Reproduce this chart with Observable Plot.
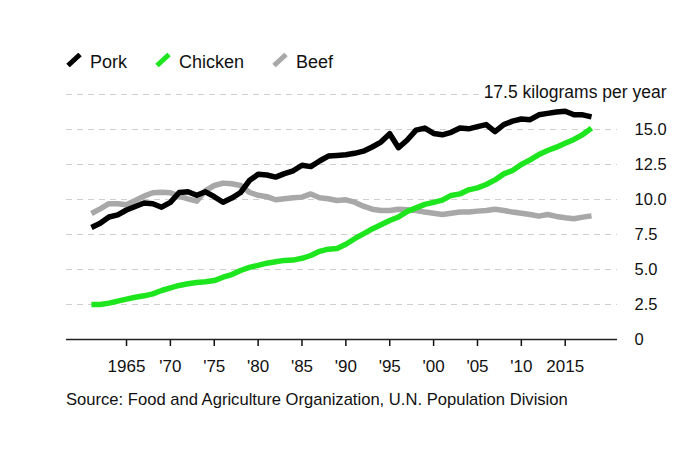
<!DOCTYPE html>
<html><head><meta charset="utf-8">
<script src="https://cdn.jsdelivr.net/npm/d3@7"></script>
<script src="https://cdn.jsdelivr.net/npm/@observablehq/plot@0.6"></script>
<style>
body{margin:0;background:#fff;font-family:"Liberation Sans",Arial,Helvetica,sans-serif;color:#111}
#wrap{position:relative;width:695px;height:450px;overflow:hidden}
#legend{position:absolute;left:66px;top:53.3px;display:flex;font-size:18px;line-height:18px;white-space:nowrap}
#legend .item{display:flex;align-items:flex-start;margin-right:28px}
#legend svg{margin-right:8px;display:block}
#chart{position:absolute;left:0;top:78px}
#caption{position:absolute;left:66px;top:391.5px;font-size:16.6px;line-height:16.6px;white-space:nowrap}
</style></head><body>
<div id="wrap">
<div id="legend"></div>
<div id="chart"></div>
<div id="caption"></div>
</div>
<script>
const years = [1961,1962,1963,1964,1965,1966,1967,1968,1969,1970,1971,1972,1973,1974,1975,1976,1977,1978,1979,1980,
1981,1982,1983,1984,1985,1986,1987,1988,1989,1990,1991,1992,1993,1994,1995,1996,1997,1998,1999,2000,
2001,2002,2003,2004,2005,2006,2007,2008,2009,2010,2011,2012,2013,2014,2015,2016,2017,2018];

const pork = [8.0,8.3,8.75,8.9,9.25,9.5,9.75,9.7,9.45,9.8,10.5,10.55,10.3,10.55,10.2,9.8,10.1,10.5,11.35,11.8,
11.75,11.6,11.85,12.05,12.45,12.35,12.75,13.1,13.15,13.2,13.3,13.45,13.75,14.1,14.7,13.7,14.25,14.95,15.1,14.72,
14.62,14.8,15.1,15.05,15.2,15.35,14.85,15.35,15.6,15.75,15.7,16.05,16.15,16.25,16.3,16.05,16.05,15.9];

const chicken = [2.5,2.5,2.6,2.74,2.88,3.02,3.12,3.26,3.5,3.69,3.86,3.98,4.07,4.12,4.21,4.45,4.64,4.93,5.15,5.3,
5.45,5.55,5.65,5.67,5.8,6.0,6.3,6.45,6.5,6.8,7.2,7.55,7.9,8.2,8.5,8.75,9.15,9.4,9.65,9.8,
9.95,10.29,10.4,10.69,10.83,11.07,11.4,11.83,12.07,12.5,12.83,13.21,13.5,13.74,14.02,14.29,14.64,15.1];

const beef = [9.0,9.33,9.7,9.7,9.62,9.93,10.24,10.48,10.52,10.48,10.24,10.05,9.88,10.64,11.0,11.17,11.12,11.0,10.52,10.3,
10.2,9.98,10.05,10.12,10.17,10.4,10.12,10.05,9.93,9.98,9.81,9.52,9.31,9.21,9.21,9.31,9.26,9.21,9.1,9.02,
8.93,9.02,9.1,9.1,9.17,9.21,9.31,9.21,9.1,9.02,8.93,8.81,8.93,8.79,8.69,8.62,8.74,8.83];

const seriesNames = ["Pork", "Chicken", "Beef"];
const seriesColors = ["#000000", "#1ee61e", "#a8a8a8"];
const xTicks = [1965,1970,1975,1980,1985,1990,1995,2000,2005,2010,2015];
const xTickLabels = ["1965","'70","'75","'80","'85","'90","'95","'00","'05","'10","2015"];
const yTicks = [0,2.5,5,7.5,10,12.5,15];
const yTickLabels = ["0","2.5","5.0","7.5","10.0","12.5","15.0"];
const gridTicks = [2.5,5,7.5,10,12.5,15,17.5];
const unitLabel = "17.5 kilograms per year";
const sourceText = "Source: Food and Agriculture Organization, U.N. Population Division";

const valuesByName = {Pork: pork, Chicken: chicken, Beef: beef};
const rows = name => years.map((y, i) => ({year: y, value: valuesByName[name][i], meat: name}));

// legend
const legend = document.getElementById("legend");
seriesNames.forEach((n, i) => {
  const item = document.createElement("div");
  item.className = "item";
  item.innerHTML = `<svg width="16" height="14"><line x1="2" y1="12.5" x2="14" y2="1.5" stroke="${seriesColors[i]}" stroke-width="5"/></svg><span>${n}</span>`;
  legend.appendChild(item);
});
document.getElementById("caption").textContent = sourceText;

const color = {domain: seriesNames, range: seriesColors};
const fmtX = d => xTickLabels[xTicks.indexOf(d)];
const fmtY = d => yTickLabels[yTicks.indexOf(d)];
const lineOpts = {x: "year", y: "value", stroke: "meat", strokeWidth: 5.5, strokeLinejoin: "round", strokeLinecap: "butt"};

const chart = Plot.plot({
  width: 695, height: 300,
  marginTop: 16, marginBottom: 39, marginLeft: 66, marginRight: 78,
  style: {fontFamily: '"Liberation Sans",Arial,Helvetica,sans-serif', fontSize: "17px", color: "#111", background: "white", overflow: "visible"},
  x: {domain: [1958.16, 2020.96]},
  y: {domain: [0, 17.5]},
  color,
  marks: [
    Plot.ruleY(gridTicks, {stroke: "#cfcfcf", strokeDasharray: "6,5", strokeWidth: 1}),
    Plot.text([17.5], {y: d => d, frameAnchor: "right", dx: 49, dy: -2, textAnchor: "end", text: () => unitLabel,
      fontSize: 17.5, fill: "#111", stroke: "white", strokeWidth: 12, paintOrder: "stroke"}),
    Plot.axisY({ticks: yTicks, anchor: "right", tickSize: 0, tickPadding: 17, tickFormat: fmtY, fontSize: 16.5, label: null}),
    Plot.axisX({ticks: xTicks, tickSize: 7, tickPadding: 13, tickFormat: fmtX, fontSize: 17, strokeWidth: 1.5, label: null}),
    Plot.ruleY([0], {stroke: "#222", strokeWidth: 1.6}),
    Plot.line(rows("Beef"), lineOpts),
    Plot.line(rows("Pork"), lineOpts),
    Plot.line(rows("Chicken"), lineOpts)
  ]
});
document.getElementById("chart").appendChild(chart);
</script>
</body></html>
